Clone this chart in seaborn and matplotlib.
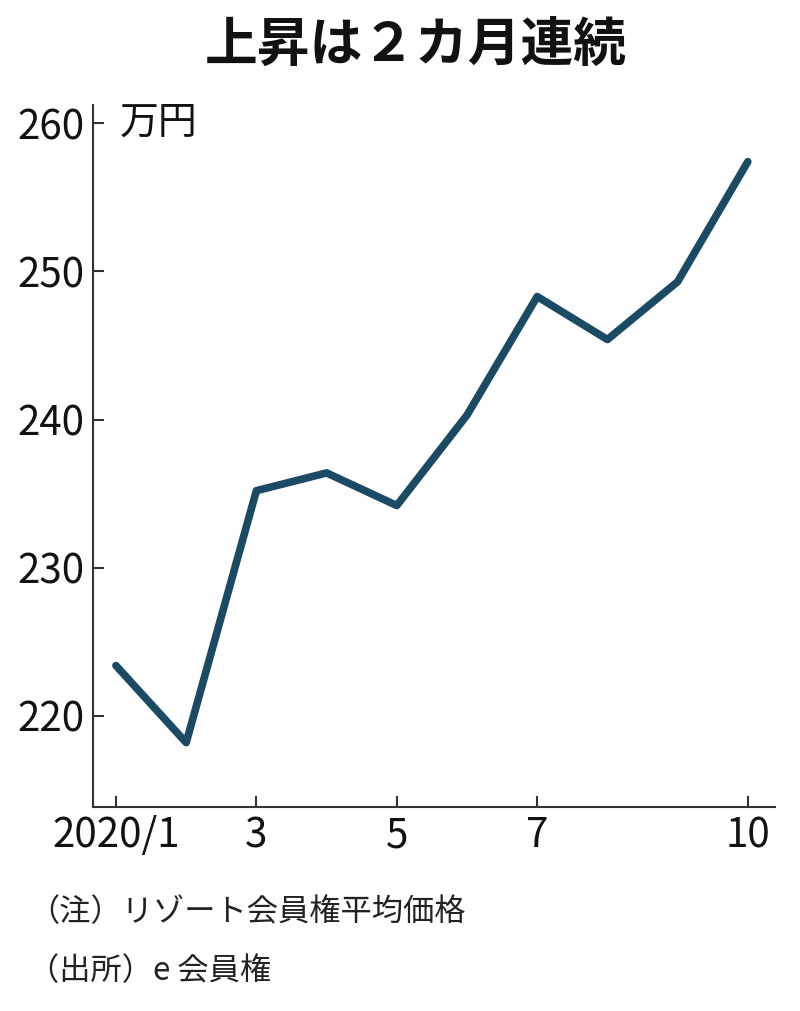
import matplotlib
matplotlib.use("Agg")
import matplotlib.pyplot as plt
import seaborn as sns
import pandas as pd

months = [1, 2, 3, 4, 5, 6, 7, 8, 9, 10]
prices = [223.4, 218.2, 235.2, 236.4, 234.2, 240.3, 248.3, 245.4, 249.3, 257.4]
xticks = [1, 3, 5, 7, 10]
xticklabels = ["2020/1", "3", "5", "7", "10"]
yticks = [220, 230, 240, 250, 260]

title = "上昇は２カ月連続"
unit = "万円"
note = "（注）リゾート会員権平均価格"
source = "（出所）e 会員権"

sns.set_theme(style="white")
plt.rcParams['font.family'] = ['Noto Sans CJK JP', 'DejaVu Sans']

df = pd.DataFrame({"month": months, "price": prices})

fig = plt.figure(figsize=(8, 10.11), dpi=100)
ax = fig.add_axes([0.116, 0.2018, 0.853, 0.694])
sns.lineplot(data=df, x="month", y="price", ax=ax, color="#1b4b64", linewidth=5.5)

ax.set_xlim(0.67, 10.39)
ax.set_ylim(213.86, 261.2)
ax.set_xticks(xticks)
ax.set_xticklabels(xticklabels)
ax.set_yticks(yticks)
ax.set_xlabel("")
ax.set_ylabel("")
for s in ["top", "right"]:
    ax.spines[s].set_visible(False)
for s in ["left", "bottom"]:
    ax.spines[s].set_color("#333333")
    ax.spines[s].set_linewidth(1.5)
ax.tick_params(axis="both", direction="in", length=8, width=1.5, colors="#333333",
               labelcolor="#111111", labelsize=29, left=True, bottom=True)
ax.tick_params(axis="x", pad=6)
ax.tick_params(axis="y", pad=6)

ax.text(0.04, 260, unit, transform=ax.get_yaxis_transform(), fontsize=28,
        va="center", ha="left", color="#111111")

fig.text(0.52, 0.955, title, fontsize=38, fontweight="bold",
         ha="center", va="center", color="#111111")
fig.text(0.035, 0.098, note, fontsize=22.5, ha="left", va="center", color="#222222")
fig.text(0.035, 0.040, source, fontsize=22.5, ha="left", va="center", color="#222222")

fig.savefig("out.png", dpi=100)
